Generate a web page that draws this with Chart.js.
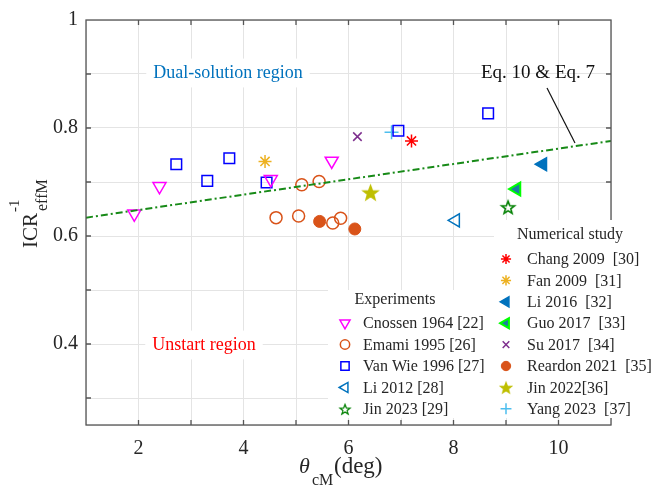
<!DOCTYPE html>
<html>
<head>
<meta charset="utf-8">
<script src="https://cdn.jsdelivr.net/npm/chart.js@4.4.0/dist/chart.umd.min.js"></script>
<style>
  html, body { margin: 0; padding: 0; background: #fff; }
</style>
</head>
<body>
<canvas id="scatterChart" width="668" height="494"></canvas>
<script>
// axis grid / tick labels
var xGrid = [1, 2, 3, 4, 5, 6, 7, 8, 9, 10, 11];
var xTickLabels = [2, 4, 6, 8, 10];
var yGrid = [0.25, 0.3, 0.4, 0.5, 0.6, 0.7, 0.8, 0.9, 1];
var yTickLabels = [0.4, 0.6, 0.8, 1];

// Eq. 10 & Eq. 7 line (end points)
var eqX = [1, 11];
var eqY = [0.634, 0.776];

// experiments
var cnossenX = [1.92, 2.40, 4.52, 5.68];
var cnossenY = [0.641, 0.692, 0.705, 0.739];
var emamiX = [4.62, 5.05, 5.11, 5.44, 5.70, 5.85];
var emamiY = [0.634, 0.637, 0.695, 0.701, 0.624, 0.633];
var vanwieX = [2.72, 3.31, 3.73, 4.44, 6.95, 8.66];
var vanwieY = [0.733, 0.702, 0.744, 0.699, 0.795, 0.827];
var li2012X = [8.04];
var li2012Y = [0.629];
var jin2023X = [9.04];
var jin2023Y = [0.654];

// numerical study
var chang2009X = [7.20];
var chang2009Y = [0.776];
var fan2009X = [4.41];
var fan2009Y = [0.738];
var li2016X = [9.70];
var li2016Y = [0.733];
var guo2017X = [9.20];
var guo2017Y = [0.687];
var su2017X = [6.17];
var su2017Y = [0.784];
var reardonX = [5.45, 6.12];
var reardonY = [0.627, 0.613];
var jin2022X = [6.42];
var jin2022Y = [0.681];
var yang2023X = [6.82];
var yang2023Y = [0.792];

function pts(xs, ys) {
    return xs.map(function (x, i) { return { x: x, y: ys[i] }; });
}

// five pointed star marker drawn on a small canvas
function starMarker(color, filled, rOut) {
    var c = document.createElement('canvas');
    var s = Math.ceil(rOut * 2 + 4);
    c.width = s; c.height = s;
    var g = c.getContext('2d');
    var rIn = rOut * 0.42;
    g.beginPath();
    for (var i = 0; i < 10; i++) {
        var r = i % 2 ? rIn : rOut;
        var a = -Math.PI / 2 + i * Math.PI / 5;
        var px = s / 2 + r * Math.cos(a), py = s / 2 + 1 + r * Math.sin(a);
        if (i === 0) g.moveTo(px, py); else g.lineTo(px, py);
    }
    g.closePath();
    g.lineWidth = 1.6;
    g.strokeStyle = color;
    if (filled) { g.fillStyle = color; g.fill(); }
    g.stroke();
    return c;
}

var NONE = 'rgba(0,0,0,0)';

function ds(label, group, data, style, color, fill, radius, bw, rot) {
    return {
        label: label,
        legendGroup: group,
        data: data,
        showLine: false,
        pointStyle: style,
        pointRotation: rot || 0,
        pointRadius: radius,
        pointHoverRadius: radius,
        pointBorderColor: color,
        pointBackgroundColor: fill,
        pointBorderWidth: bw,
        borderColor: color,
        backgroundColor: fill
    };
}

var datasets = [
    {
        type: 'line',
        label: 'Eq. 10 & Eq. 7',
        data: pts(eqX, eqY),
        borderColor: '#178a17',
        borderWidth: 2,
        borderDash: [7, 3, 2, 3],
        pointRadius: 0,
        fill: false
    },
    ds('Cnossen 1964 [22]', 'exp', pts(cnossenX, cnossenY), 'triangle', '#ff00ff', NONE, 7.5, 1.5, 180),
    ds('Emami 1995 [26]', 'exp', pts(emamiX, emamiY), 'circle', '#d95319', NONE, 6, 1.5),
    ds('Van Wie 1996 [27]', 'exp', pts(vanwieX, vanwieY), 'rect', '#0000ff', NONE, 7.5, 1.5),
    ds('Li 2012 [28]', 'exp', pts(li2012X, li2012Y), 'triangle', '#0072bd', NONE, 7.5, 1.5, -90),
    ds('Jin 2023 [29]', 'exp', pts(jin2023X, jin2023Y), starMarker('#008000', false, 6.8), '#008000', NONE, 7, 1.5),
    ds('Chang 2009  [30]', 'num', pts(chang2009X, chang2009Y), 'star', '#ff0000', NONE, 6.5, 1.5),
    ds('Fan 2009  [31]', 'num', pts(fan2009X, fan2009Y), 'star', '#edb120', NONE, 6.5, 1.5),
    ds('Li 2016  [32]', 'num', pts(li2016X, li2016Y), 'triangle', '#0072bd', '#0072bd', 7.5, 1.5, -90),
    ds('Guo 2017  [33]', 'num', pts(guo2017X, guo2017Y), 'triangle', '#00ff00', '#1a7fa0', 7.5, 2, -90),
    ds('Su 2017  [34]', 'num', pts(su2017X, su2017Y), 'crossRot', '#7e2f8e', NONE, 6, 1.5),
    ds('Reardon 2021  [35]', 'num', pts(reardonX, reardonY), 'circle', '#d95319', '#d95319', 6, 1),
    ds('Jin 2022[36]', 'num', pts(jin2022X, jin2022Y), starMarker('#bfbf00', true, 7.5), '#bfbf00', '#bfbf00', 8, 1),
    ds('Yang 2023  [37]', 'num', pts(yang2023X, yang2023Y), 'cross', '#4dbeee', NONE, 7, 1.5)
];

var SERIF = '"Liberation Serif", "Times New Roman", serif';

function boxedText(ctx, text, cx, cy, color, size) {
    ctx.save();
    ctx.font = size + 'px ' + SERIF;
    var w = ctx.measureText(text).width;
    ctx.fillStyle = '#fff';
    ctx.fillRect(cx - w / 2 - 7, cy - size * 0.8, w + 14, size * 1.6);
    ctx.fillStyle = color;
    ctx.textAlign = 'center';
    ctx.textBaseline = 'middle';
    ctx.fillText(text, cx, cy);
    ctx.restore();
}

// region labels sit on white boxes over the grid
var regionText = {
    id: 'regionText',
    beforeDatasetsDraw: function (chart) {
        var ctx = chart.ctx;
        boxedText(ctx, 'Dual-solution region', 228, 73, '#0072bd', 18);
        boxedText(ctx, 'Unstart region', 204, 345, '#ff0000', 18);
    }
};

// MATLAB style box with inward ticks, annotation and axis titles
var frame = {
    id: 'frame',
    afterDatasetsDraw: function (chart) {
        var ctx = chart.ctx, a = chart.chartArea;
        var xs = chart.scales.x, ys = chart.scales.y;
        ctx.save();
        ctx.strokeStyle = '#555';
        ctx.lineWidth = 1.3;
        ctx.strokeRect(a.left, a.top, a.right - a.left, a.bottom - a.top);
        ctx.beginPath();
        xGrid.slice(1, -1).forEach(function (v) {
            var px = xs.getPixelForValue(v);
            ctx.moveTo(px, a.bottom); ctx.lineTo(px, a.bottom - 5);
            ctx.moveTo(px, a.top); ctx.lineTo(px, a.top + 5);
        });
        yGrid.slice(1, -1).forEach(function (v) {
            var py = ys.getPixelForValue(v);
            ctx.moveTo(a.left, py); ctx.lineTo(a.left + 5, py);
            ctx.moveTo(a.right, py); ctx.lineTo(a.right - 5, py);
        });
        ctx.stroke();

        // equation annotation
        ctx.fillStyle = '#111';
        ctx.font = '19px ' + SERIF;
        ctx.textAlign = 'center';
        ctx.textBaseline = 'middle';
        ctx.fillText('Eq. 10 & Eq. 7', 538, 73);
        ctx.strokeStyle = '#111';
        ctx.lineWidth = 1.2;
        ctx.beginPath();
        ctx.moveTo(547, 88);
        ctx.lineTo(575, 143);
        ctx.stroke();

        // x axis title
        ctx.fillStyle = '#262626';
        ctx.textAlign = 'left';
        ctx.textBaseline = 'alphabetic';
        ctx.font = 'italic 22px ' + SERIF;
        ctx.fillText('\u03b8', 299, 473);
        ctx.font = '16px ' + SERIF;
        ctx.fillText('cM', 312, 485);
        ctx.font = '23px ' + SERIF;
        ctx.fillText('(deg)', 334, 473);

        // y axis title
        ctx.translate(37, 248);
        ctx.rotate(-Math.PI / 2);
        ctx.font = '21px ' + SERIF;
        ctx.fillText('ICR', 0, 0);
        var w = ctx.measureText('ICR').width;
        ctx.font = '15px ' + SERIF;
        ctx.fillText('-1', w + 1, -18);
        ctx.font = '16px ' + SERIF;
        ctx.fillText('effM', w + 2, 10);
        ctx.restore();
    }
};

// two grouped legends drawn inside the axes
var groupLegend = {
    id: 'groupLegend',
    afterDraw: function (chart) {
        var ctx = chart.ctx;
        var boxes = [
            { group: 'exp', title: 'Experiments', x: 328, y: 290, w: 166, h: 128, tx: 395, ty: 300, mx: 345, lx: 363, ry: 323, dy: 21.5 },
            { group: 'num', title: 'Numerical study', x: 494, y: 220, w: 174, h: 198, tx: 570, ty: 235, mx: 506, lx: 527, ry: 259, dy: 21.4 }
        ];
        boxes.forEach(function (b) {
            ctx.save();
            ctx.fillStyle = '#fff';
            ctx.fillRect(b.x, b.y, b.w, b.h);
            ctx.fillStyle = '#262626';
            ctx.font = '16px ' + SERIF;
            ctx.textAlign = 'center';
            ctx.textBaseline = 'middle';
            ctx.fillText(b.title, b.tx, b.ty);
            ctx.textAlign = 'left';
            var row = 0;
            chart.data.datasets.forEach(function (d) {
                if (d.legendGroup !== b.group) return;
                var y = b.ry + row * b.dy;
                ctx.save();
                ctx.translate(b.mx, y);
                ctx.scale(0.78, 0.78);
                ctx.strokeStyle = d.pointBorderColor;
                ctx.fillStyle = d.pointBackgroundColor;
                ctx.lineWidth = d.pointBorderWidth / 0.78;
                Chart.helpers.drawPoint(ctx, {
                    pointStyle: d.pointStyle,
                    rotation: d.pointRotation,
                    radius: d.pointRadius,
                    borderWidth: d.pointBorderWidth
                }, 0, 0);
                ctx.restore();
                ctx.fillStyle = '#262626';
                ctx.fillText(d.label, b.lx, y + 1);
                row++;
            });
            ctx.restore();
        });
    }
};

var ctx = document.getElementById('scatterChart').getContext('2d');
var myChart = new Chart(ctx, {
    type: 'scatter',
    data: { datasets: datasets },
    options: {
        responsive: false,
        animation: false,
        events: [],
        layout: { padding: { top: 14, right: 57, left: 0, bottom: 0 } },
        plugins: { legend: { display: false }, tooltip: { enabled: false } },
        scales: {
            x: {
                type: 'linear',
                min: 1,
                max: 11,
                afterBuildTicks: function (s) { s.ticks = xGrid.map(function (v) { return { value: v }; }); },
                afterFit: function (s) { s.height = 69; },
                grid: { color: '#e4e4e4', lineWidth: 1, drawTicks: false },
                border: { display: false },
                ticks: {
                    autoSkip: false,
                    maxRotation: 0,
                    padding: 12,
                    color: '#262626',
                    font: { family: SERIF, size: 20 },
                    callback: function (v) { return xTickLabels.indexOf(v) >= 0 ? String(v) : ''; }
                }
            },
            y: {
                type: 'linear',
                min: 0.25,
                max: 1,
                afterBuildTicks: function (s) { s.ticks = yGrid.map(function (v) { return { value: v }; }); },
                afterFit: function (s) { s.width = 86; },
                grid: { color: '#e4e4e4', lineWidth: 1, drawTicks: false },
                border: { display: false },
                ticks: {
                    autoSkip: false,
                    padding: 8,
                    color: '#262626',
                    font: { family: SERIF, size: 20 },
                    callback: function (v) { return yTickLabels.indexOf(v) >= 0 ? String(v) : ''; }
                }
            }
        }
    },
    plugins: [regionText, frame, groupLegend]
});
</script>
</body>
</html>
